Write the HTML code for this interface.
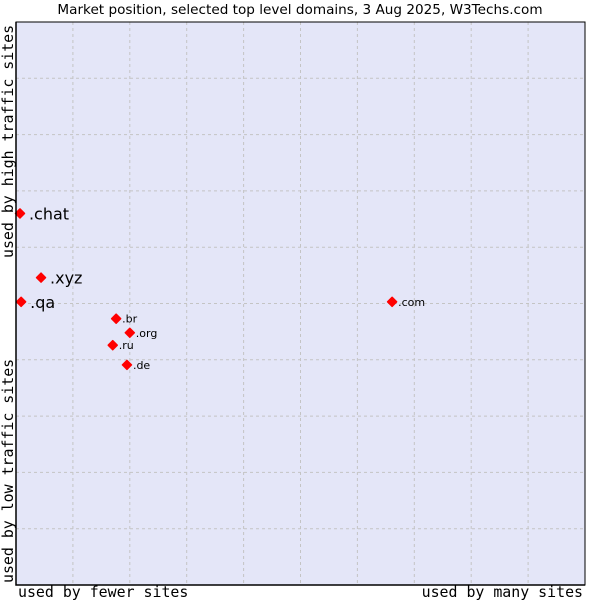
<!DOCTYPE html>
<html><head><meta charset="utf-8"><style>
body{margin:0;background:#fff;width:600px;height:600px;overflow:hidden}
text{font-family:"DejaVu Sans","Liberation Sans",sans-serif}
.mono{font-family:"DejaVu Sans Mono","Liberation Mono",monospace;font-size:14.9px}
</style></head><body>
<svg id="chart" width="600" height="600">
<text x="300" y="14" text-anchor="middle" font-size="13.6">Market position, selected top level domains, 3 Aug 2025, W3Techs.com</text>
<rect x="16" y="22" width="569" height="563" fill="#e4e6f8"/>
<g id="grid"></g>
<g id="points"></g>
<rect x="16" y="22" width="569" height="563" fill="none" stroke="#000" stroke-width="1"/>
<path d="M16 22V585H585" fill="none" stroke="#000" stroke-width="1.5"/>
<text class="mono" x="18" y="597">used by fewer sites</text>
<text class="mono" x="583" y="597" text-anchor="end">used by many sites</text>
<text class="mono" transform="translate(13,583) rotate(-90)">used by low traffic sites</text>
<text class="mono" transform="translate(13,258) rotate(-90)">used by high traffic sites</text>
</svg>
<script>
const domains=[".chat",".xyz",".qa",".br",".org",".ru",".de",".com"];
const usage=[0.7,4.4,0.9,17.6,20.0,17.0,19.5,66.1];
const traffic=[66.0,54.6,50.3,47.3,44.8,42.6,39.1,50.3];
const bigLabel=[true,true,true,false,false,false,false,false];
const L=16,R=585,T=22,B=585;
const sx=v=>L+v/100*(R-L);
const sy=v=>B-v/100*(B-T);
const ns="http://www.w3.org/2000/svg";
const grid=document.getElementById('grid');
for(let i=1;i<10;i++){
  const v=document.createElementNS(ns,'line');
  
  
  v.setAttribute('x1',sx(i*10));v.setAttribute('x2',sx(i*10));v.setAttribute('y1',T);v.setAttribute('y2',B);
  v.setAttribute('stroke','#c4c4c4');v.setAttribute('stroke-dasharray','3,3');
  grid.appendChild(v);
  const h=document.createElementNS(ns,'line');
  
  
  h.setAttribute('y1',sy(i*10));h.setAttribute('y2',sy(i*10));h.setAttribute('x1',L);h.setAttribute('x2',R);
  h.setAttribute('stroke','#c4c4c4');h.setAttribute('stroke-dasharray','3,3');
  grid.appendChild(h);
}
const pts=document.getElementById('points');
domains.forEach((d,i)=>{
  const x=sx(usage[i]),y=sy(traffic[i]);
  const p=document.createElementNS(ns,'path');
  
  
  p.setAttribute('d',`M${x} ${y-4.5}L${x+4.5} ${y}L${x} ${y+4.5}L${x-4.5} ${y}Z`);
  p.setAttribute('fill','#f00');p.setAttribute('stroke','#f00');p.setAttribute('stroke-width','1.5');p.setAttribute('stroke-linejoin','round');
  pts.appendChild(p);
  const t=document.createElementNS(ns,'text');
  
  
  t.setAttribute('x',x+(bigLabel[i]?9:6));
  t.setAttribute('y',y+(bigLabel[i]?6:4));
  t.setAttribute('font-size',bigLabel[i]?16:11);
  t.textContent=d;
  pts.appendChild(t);
});
</script>
</body></html>
